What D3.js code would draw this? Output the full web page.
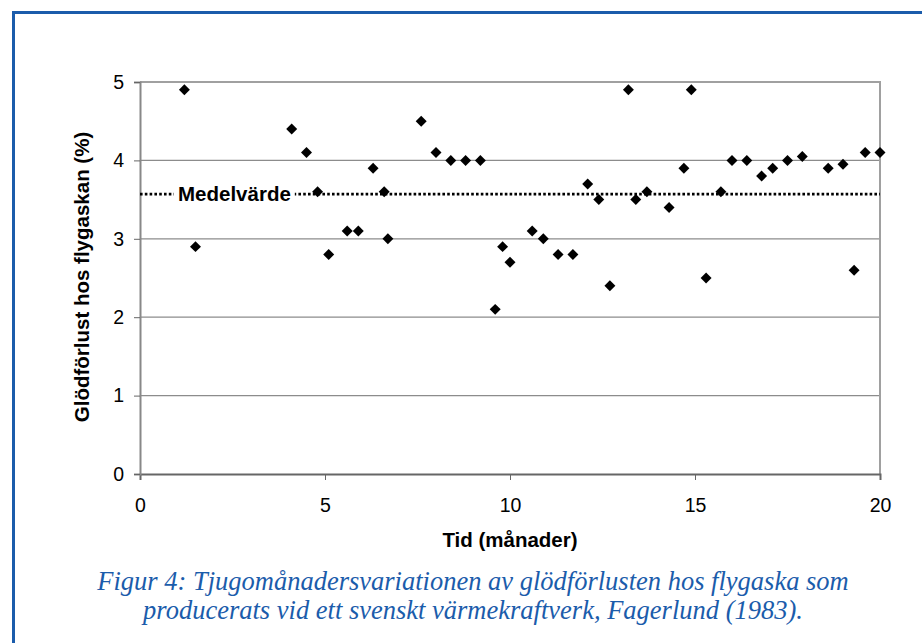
<!DOCTYPE html>
<html>
<head>
<meta charset="utf-8">
<script src="https://cdn.jsdelivr.net/npm/d3@7"></script>
<style>
    body { margin: 0; background: #fff; }
    .axisLabel { font-family: "Liberation Sans", Arial, sans-serif; font-size: 20.5px; font-weight: bold; }
    .caption { font-family: "Liberation Serif", "Times New Roman", serif; font-style: italic; font-size: 26.5px; fill: #1b5cab; }
</style>
</head>
<body>
<div id="grf"></div>
<script>
// Data
const months = [1.2, 1.5, 4.1, 4.5, 4.8, 5.1, 5.6, 5.9, 6.3, 6.6, 6.7, 7.6, 8.0, 8.4, 8.8, 9.2,
    9.6, 9.8, 10.0, 10.6, 10.9, 11.3, 11.7, 12.1, 12.4, 12.7, 13.2, 13.4, 13.7, 14.3, 14.7, 14.9,
    15.3, 15.7, 16.0, 16.4, 16.8, 17.1, 17.5, 17.9, 18.6, 19.0, 19.3, 19.6, 20.0];
const loss = [4.9, 2.9, 4.4, 4.1, 3.6, 2.8, 3.1, 3.1, 3.9, 3.6, 3.0, 4.5, 4.1, 4.0, 4.0, 4.0,
    2.1, 2.9, 2.7, 3.1, 3.0, 2.8, 2.8, 3.7, 3.5, 2.4, 4.9, 3.5, 3.6, 3.4, 3.9, 4.9,
    2.5, 3.6, 4.0, 4.0, 3.8, 3.9, 4.0, 4.05, 3.9, 3.95, 2.6, 4.1, 4.1];
const meanValue = 3.57;
const meanLabel = "Medelvärde";
const xTicks = [0, 5, 10, 15, 20];
const yTicks = [0, 1, 2, 3, 4, 5];
const xTitle = "Tid (månader)";
const yTitle = "Glödförlust hos flygaskan (%)";
const captionLines = [
    "Figur 4: Tjugomånadersvariationen av glödförlusten hos flygaska som",
    "producerats vid ett svenskt värmekraftverk, Fagerlund (1983)."
];

const W = 922, H = 643;
const plotX = 140, plotY = 82, width = 740, height = 392;

const svg = d3.select("#grf").append("svg")
    .attr("width", W)
    .attr("height", H);

// blue frame (runs off the right and bottom edges)
svg.append("rect")
    .attr("x", 13.5).attr("y", 12.5)
    .attr("width", 940).attr("height", 700)
    .attr("fill", "none")
    .attr("stroke", "#1b5cab")
    .attr("stroke-width", 3);

const g = svg.append("g")
    .attr("transform", "translate(" + plotX + "," + plotY + ")");

const x = d3.scaleLinear().domain([0, 20]).range([0, width]);
const y = d3.scaleLinear().domain([0, 5]).range([height, 0]);

// grid
g.append("g")
    .selectAll("line")
    .data(yTicks.filter(d => d > 0 && d < 5))
    .join("line")
    .attr("x1", 0).attr("x2", width)
    .attr("y1", d => y(d)).attr("y2", d => y(d))
    .attr("stroke", "#8c8c8c")
    .attr("stroke-width", 1.2);

// plot frame top / right
g.append("path")
    .attr("d", "M0," + y(5) + "H" + width + "V" + height)
    .attr("fill", "none")
    .attr("stroke", "#a0a0a0")
    .attr("stroke-width", 2);

// axes
const xAxis = g.append("g")
    .attr("transform", "translate(0," + height + ")")
    .call(d3.axisBottom(x).tickValues(xTicks).tickFormat(d3.format("d")).tickSize(6).tickPadding(18));
const yAxis = g.append("g")
    .call(d3.axisLeft(y).tickValues(yTicks).tickFormat(d3.format("d")).tickSize(6).tickPadding(10));

[xAxis, yAxis].forEach(a => a
    .attr("font-family", "'Liberation Sans', Arial, sans-serif")
    .attr("font-size", 19.5));
xAxis.select(".domain").attr("stroke", "#666").attr("stroke-width", 2);
yAxis.select(".domain").attr("stroke", "#888").attr("stroke-width", 2);
xAxis.selectAll(".tick line").attr("stroke", "#666");
yAxis.selectAll(".tick line").attr("stroke", "#666");

// mean line
g.append("line")
    .attr("x1", 0).attr("x2", width)
    .attr("y1", y(meanValue)).attr("y2", y(meanValue))
    .attr("stroke", "#000")
    .attr("stroke-width", 2.8)
    .attr("stroke-dasharray", "2.6,2.2");

const ml = g.append("text")
    .attr("class", "axisLabel")
    .attr("x", 38)
    .attr("y", y(meanValue))
    .attr("dy", "0.35em")
    .text(meanLabel);
const bb = ml.node().getBBox();
g.insert("rect", "text.axisLabel")
    .attr("x", bb.x - 4).attr("y", bb.y)
    .attr("width", bb.width + 8).attr("height", bb.height)
    .attr("fill", "#fff");

// points
const data = months.map((m, i) => ({ m: m, v: loss[i] }));
g.append("g")
    .selectAll("path")
    .data(data)
    .join("path")
    .attr("d", d3.symbol(d3.symbolSquare, 60))
    .attr("transform", d => "translate(" + x(d.m) + "," + y(d.v) + ") rotate(45)")
    .attr("fill", "#000");

// axis titles
g.append("text")
    .attr("class", "axisLabel")
    .attr("x", width / 2)
    .attr("y", height + 73)
    .attr("text-anchor", "middle")
    .text(xTitle);

g.append("text")
    .attr("class", "axisLabel")
    .attr("transform", "rotate(-90)")
    .attr("x", -height / 2 + 1)
    .attr("y", -51)
    .attr("text-anchor", "middle")
    .text(yTitle);

// caption
svg.selectAll(".caption")
    .data(captionLines)
    .join("text")
    .attr("class", "caption")
    .attr("x", 473)
    .attr("y", (d, i) => 590 + i * 29)
    .attr("text-anchor", "middle")
    .text(d => d);
</script>
</body>
</html>
